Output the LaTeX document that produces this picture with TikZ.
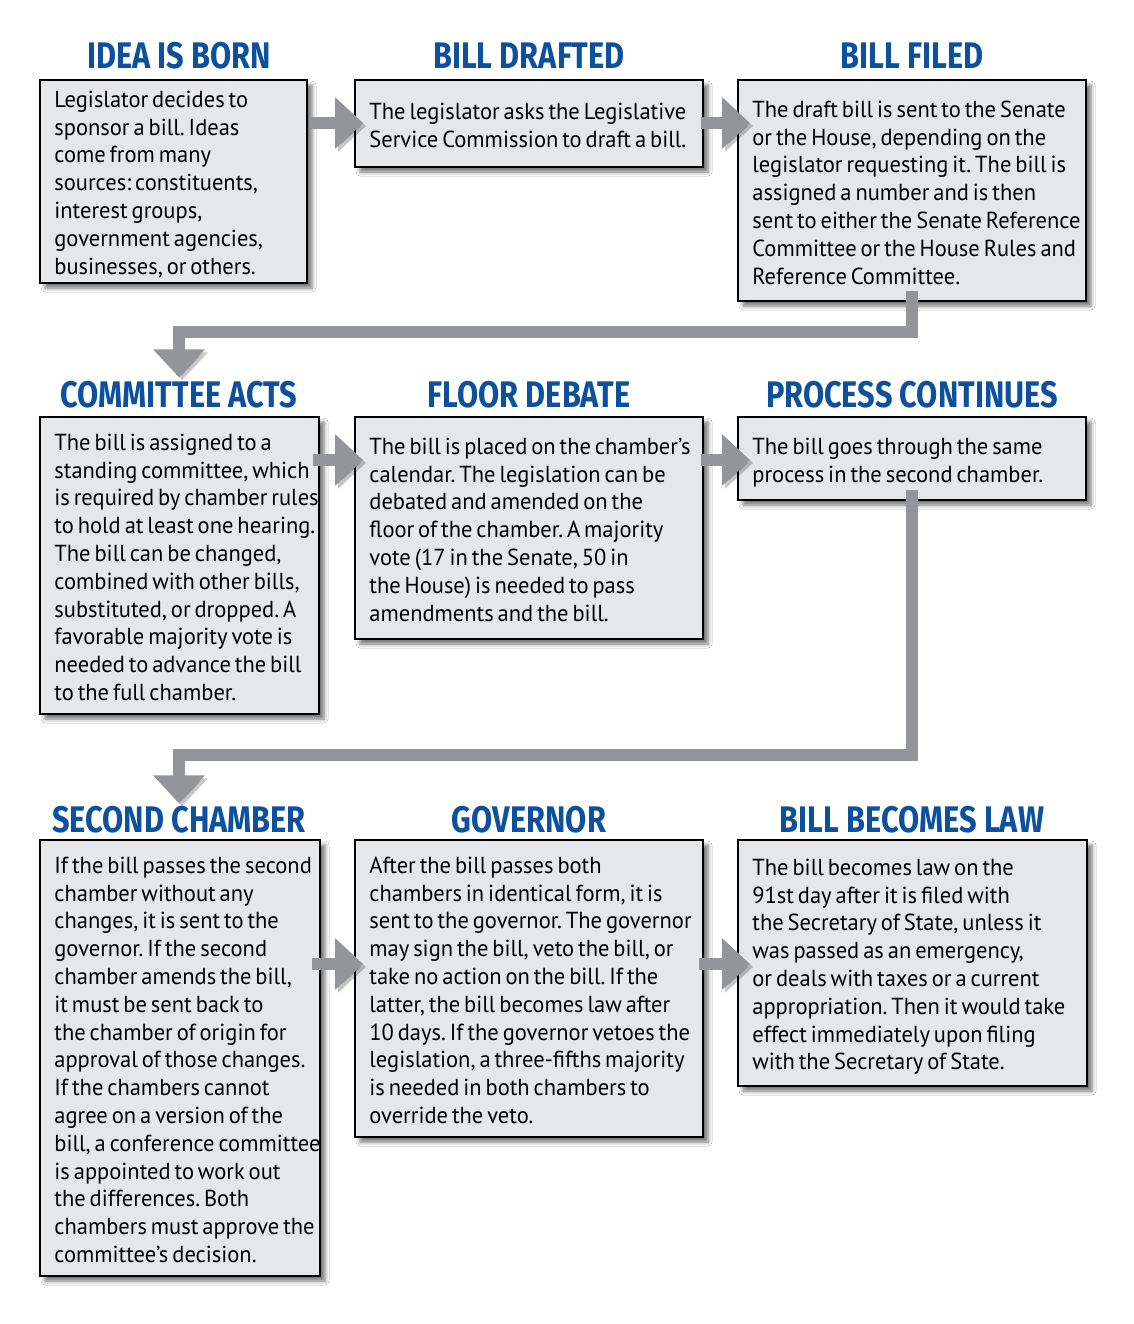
\documentclass[tikz,border=0pt]{standalone}
\usepackage{fontspec}
\setmainfont{PT Sans}
\newfontfamily\bodyfont[FakeStretch=0.97]{PT Sans}
\newfontfamily\titlefont[FakeStretch=0.83]{Fira Sans}
\usetikzlibrary{arrows.meta,shadows.blur,calc}
\definecolor{titleblue}{RGB}{12,80,158}
\definecolor{boxfill}{RGB}{230,231,232}
\definecolor{arrowgray}{RGB}{147,149,152}
\newcommand{\bodysetup}{\bodyfont\fontsize{11.6}{13.9}\selectfont\frenchspacing\spaceskip=0.17em plus 0.05em}
\tikzset{
  box/.style={draw=black, line width=0.7pt, fill=boxfill, anchor=north west, inner sep=0pt, outer sep=0pt,
    blur shadow={shadow xshift=2.5pt, shadow yshift=-2.5pt, shadow blur radius=2pt, shadow opacity=55}},
  body/.style={anchor=north west, inner sep=0pt, align=left, font=\bodysetup},
  ttl/.style={anchor=base, inner sep=0pt, text=titleblue, font=\titlefont\bfseries\fontsize{18.5}{18.5}\selectfont},
  bigarrow/.style={draw=arrowgray, line width=6.2pt, line join=miter, -{Triangle[width=25pt,length=14pt]},
    preaction={draw=black, opacity=0.22, transform canvas={shift={(1.5pt,-1.5pt)}}}}
}
\begin{document}
\begin{tikzpicture}[x=0.5pt,y=-0.5pt]
\fill[white] (0,0) rectangle (1134,1324);
\useasboundingbox (0,0) rectangle (1134,1324);

% titles
\node[ttl] (t1) at (179,68) {IDEA IS BORN};
\node[ttl] (t2) at (529,68) {BILL DRAFTED};
\node[ttl] (t3) at (912,68) {BILL FILED};
\node[ttl] (t4) at (179,407) {COMMITTEE ACTS};
\node[ttl] (t5) at (529,407) {FLOOR DEBATE};
\node[ttl] (t6) at (912,407) {PROCESS CONTINUES};
\node[ttl] (t7) at (179,832) {SECOND CHAMBER};
\node[ttl] (t8) at (529,832) {GOVERNOR};
\node[ttl] (t9) at (912,832) {BILL BECOMES LAW};

% boxes
\node[box, minimum width=133.5pt, minimum height=101.5pt] (b1) at (40,80) {};
\node[box, minimum width=174pt, minimum height=43.5pt] (b2) at (355,80) {};
\node[box, minimum width=174pt, minimum height=110.5pt] (b3) at (738,80) {};
\node[box, minimum width=139.5pt, minimum height=148.5pt] (b4) at (40,417) {};
\node[box, minimum width=174pt, minimum height=111pt] (b5) at (355,417) {};
\node[box, minimum width=174pt, minimum height=41.5pt] (b6) at (738,417) {};
\node[box, minimum width=140pt, minimum height=218pt] (b7) at (40,840) {};
\node[box, minimum width=174pt, minimum height=148.5pt] (b8) at (355,840) {};
\node[box, minimum width=174.5pt, minimum height=123pt] (b9) at (738,840) {};

% texts
\node[body] (x1) at (54,87.5) {\strut Legislator decides to\\sponsor a bill. Ideas\\come from many\\sources: constituents,\\interest groups,\\government agencies,\\businesses, or others.};
\node[body] (x2) at (369,99.5) {\strut The legislator asks the Legislative\\Service Commission to draft a bill.};
\node[body] (x3) at (752,97.5) {\strut The draft bill is sent to the Senate\\or the House, depending on the\\legislator requesting it. The bill is\\assigned a number and is then\\sent to either the Senate Reference\\Committee or the House Rules and\\Reference Committee.};
\node[body] (x4) at (54,430.5) {\strut The bill is assigned to a\\standing committee, which\\is required by chamber rules\\to hold at least one hearing.\\The bill can be changed,\\combined with other bills,\\substituted, or dropped. A\\favorable majority vote is\\needed to advance the bill\\to the full chamber.};
\node[body] (x5) at (369,434.5) {\strut The bill is placed on the chamber’s\\calendar. The legislation can be\\debated and amended on the\\floor of the chamber. A majority\\vote (17 in the Senate, 50 in\\the House) is needed to pass\\amendments and the bill.};
\node[body] (x6) at (752,434.5) {\strut The bill goes through the same\\process in the second chamber.};
\node[body] (x7) at (54,853.5) {\strut If the bill passes the second\\chamber without any\\changes, it is sent to the\\governor. If the second\\chamber amends the bill,\\it must be sent back to\\the chamber of origin for\\approval of those changes.\\If the chambers cannot\\agree on a version of the\\bill, a conference committee\\is appointed to work out\\the differences. Both\\chambers must approve the\\committee’s decision.};
\node[body] (x8) at (369,853.5) {\strut After the bill passes both\\chambers in identical form, it is\\sent to the governor. The governor\\may sign the bill, veto the bill, or\\take no action on the bill. If the\\latter, the bill becomes law after\\10 days. If the governor vetoes the\\legislation, a three-fifths majority\\is needed in both chambers to\\override the veto.};
\node[body] (x9) at (752,855.5) {\strut The bill becomes law on the\\91st day after it is filed with\\the Secretary of State, unless it\\was passed as an emergency,\\or deals with taxes or a current\\appropriation. Then it would take\\effect immediately upon filing\\with the Secretary of State.};

% arrows
\draw[bigarrow] ($(b1.north east)+(4,43)$) -- ($(b2.north west)+(8,43)$);
\draw[bigarrow] ($(b2.north east)+(-2,43)$) -- ($(b3.north west)+(12,43)$);
\draw[bigarrow] ($(b4.north east)+(-6,43)$) -- ($(b5.north west)+(8,43)$);
\draw[bigarrow] ($(b5.north east)+(-2,43)$) -- ($(b6.north west)+(12,43)$);
\draw[bigarrow] ($(b7.north east)+(-8,124)$) -- ($(b8.north west)+(8,124)$);
\draw[bigarrow] ($(b8.north east)+(-4,124)$) -- ($(b9.north west)+(12,124)$);
\draw[bigarrow] ($(b3.south)+(0,-10)$) -- ($(b3.south)+(0,31)$) -| ($(t4.north)+(0,-3)$);
\draw[bigarrow] ($(b6.south)+(0,-10)$) -- ($(b6.south)+(0,255)$) -| ($(t7.north)+(0,-2)$);
\end{tikzpicture}
\end{document}
